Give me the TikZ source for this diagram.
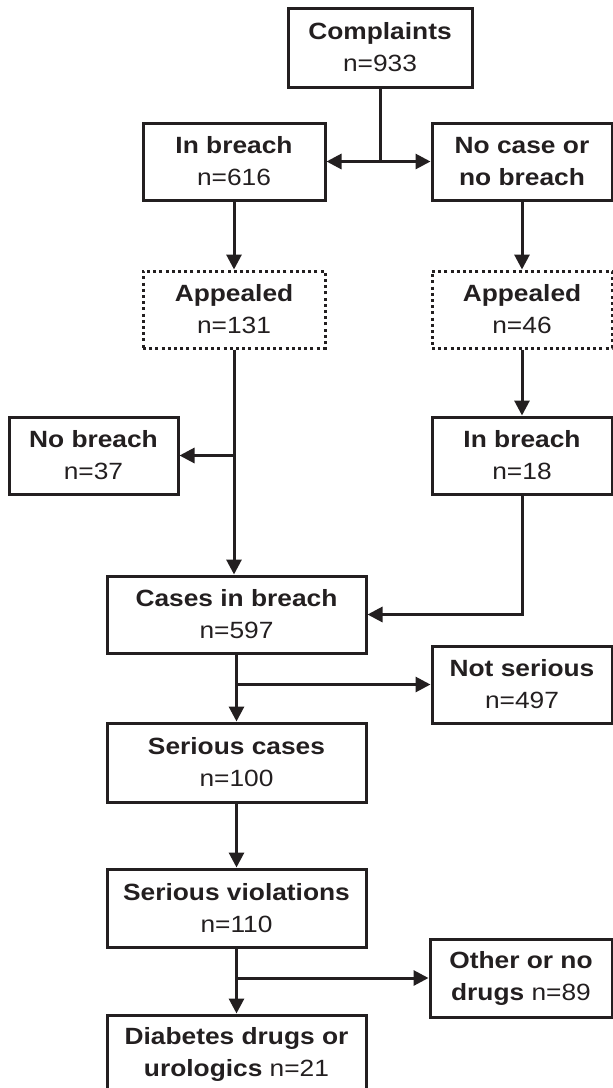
\documentclass[tikz,border=0pt]{standalone}
\usepackage{fontspec}
\setmainfont[FakeStretch=1.12]{Liberation Sans}
\usetikzlibrary{arrows.meta}
\definecolor{ink}{HTML}{231F20}
\begin{document}
\begin{tikzpicture}[x=1pt,y=-1pt,
  box/.style={draw=ink, line width=3pt, inner sep=0pt, align=center, text=ink,
    font=\fontsize{23.5}{32}\selectfont},
  dotbox/.style={box, dash pattern=on 3pt off 3.2pt},
  arr/.style={draw=ink, line width=3pt, -{Triangle[length=15pt,width=15pt]}},
  ln/.style={draw=ink, line width=3pt}]
\useasboundingbox (0,0) rectangle (613,1088);
\clip (0,0) rectangle (613,1088);
\node[box, minimum width=184pt, minimum height=79pt] (comp) at (380,47.5) {\textbf{Complaints}\\n=933};
\node[box, minimum width=182pt, minimum height=77pt] (inb) at (234,161.5) {\textbf{In breach}\\n=616};
\node[box, minimum width=180pt, minimum height=77pt] (nocase) at (522,161.5) {\textbf{No case or}\\\textbf{no breach}};
\node[dotbox, minimum width=182pt, minimum height=77pt] (app1) at (234,309.5) {\textbf{Appealed}\\n=131};
\node[dotbox, minimum width=180pt, minimum height=77pt] (app2) at (522,309.5) {\textbf{Appealed}\\n=46};
\node[box, minimum width=169pt, minimum height=77pt] (nob) at (93.5,455.5) {\textbf{No breach}\\n=37};
\node[box, minimum width=180pt, minimum height=77pt] (inb2) at (522,455.5) {\textbf{In breach}\\n=18};
\node[box, minimum width=259pt, minimum height=77pt] (cases) at (236.5,614.5) {\textbf{Cases in breach}\\n=597};
\node[box, minimum width=180pt, minimum height=77pt] (notser) at (522,684.5) {\textbf{Not serious}\\n=497};
\node[box, minimum width=259pt, minimum height=79pt] (sercases) at (236.5,762.5) {\textbf{Serious cases}\\n=100};
\node[box, minimum width=259pt, minimum height=78pt] (serviol) at (236.5,908) {\textbf{Serious violations}\\n=110};
\node[box, minimum width=182pt, minimum height=78pt] (other) at (521,978) {\textbf{Other or no}\\\textbf{drugs} n=89};
\node[box, minimum width=259pt, minimum height=78pt] (diab) at (236.5,1054) {\textbf{Diabetes drugs or}\\\textbf{urologics} n=21};

\coordinate (j1) at (comp.south |- inb.east);
\draw[ln] (comp.south) -- (j1);
\draw[arr] (j1) -- (inb.east);
\draw[arr] (j1) -- (nocase.west);
\draw[arr] (inb.south) -- (app1.north);
\draw[arr] (nocase.south) -- (app2.north);
\coordinate (j2) at (app1.south |- nob.east);
\coordinate (j3) at (app1.south |- cases.north);
\draw[arr] (app1.south) -- (j3);
\draw[arr] (j2) -- (nob.east);
\draw[arr] (app2.south) -- (inb2.north);
\draw[arr] (inb2.south) |- (cases.east);
\coordinate (j4) at (cases.south |- notser.west);
\draw[arr] (cases.south) -- (sercases.north);
\draw[arr] (j4) -- (notser.west);
\draw[arr] (sercases.south) -- (serviol.north);
\coordinate (j5) at (serviol.south |- other.west);
\draw[arr] (serviol.south) -- (diab.north);
\draw[arr] (j5) -- (other.west);
\end{tikzpicture}
\end{document}
